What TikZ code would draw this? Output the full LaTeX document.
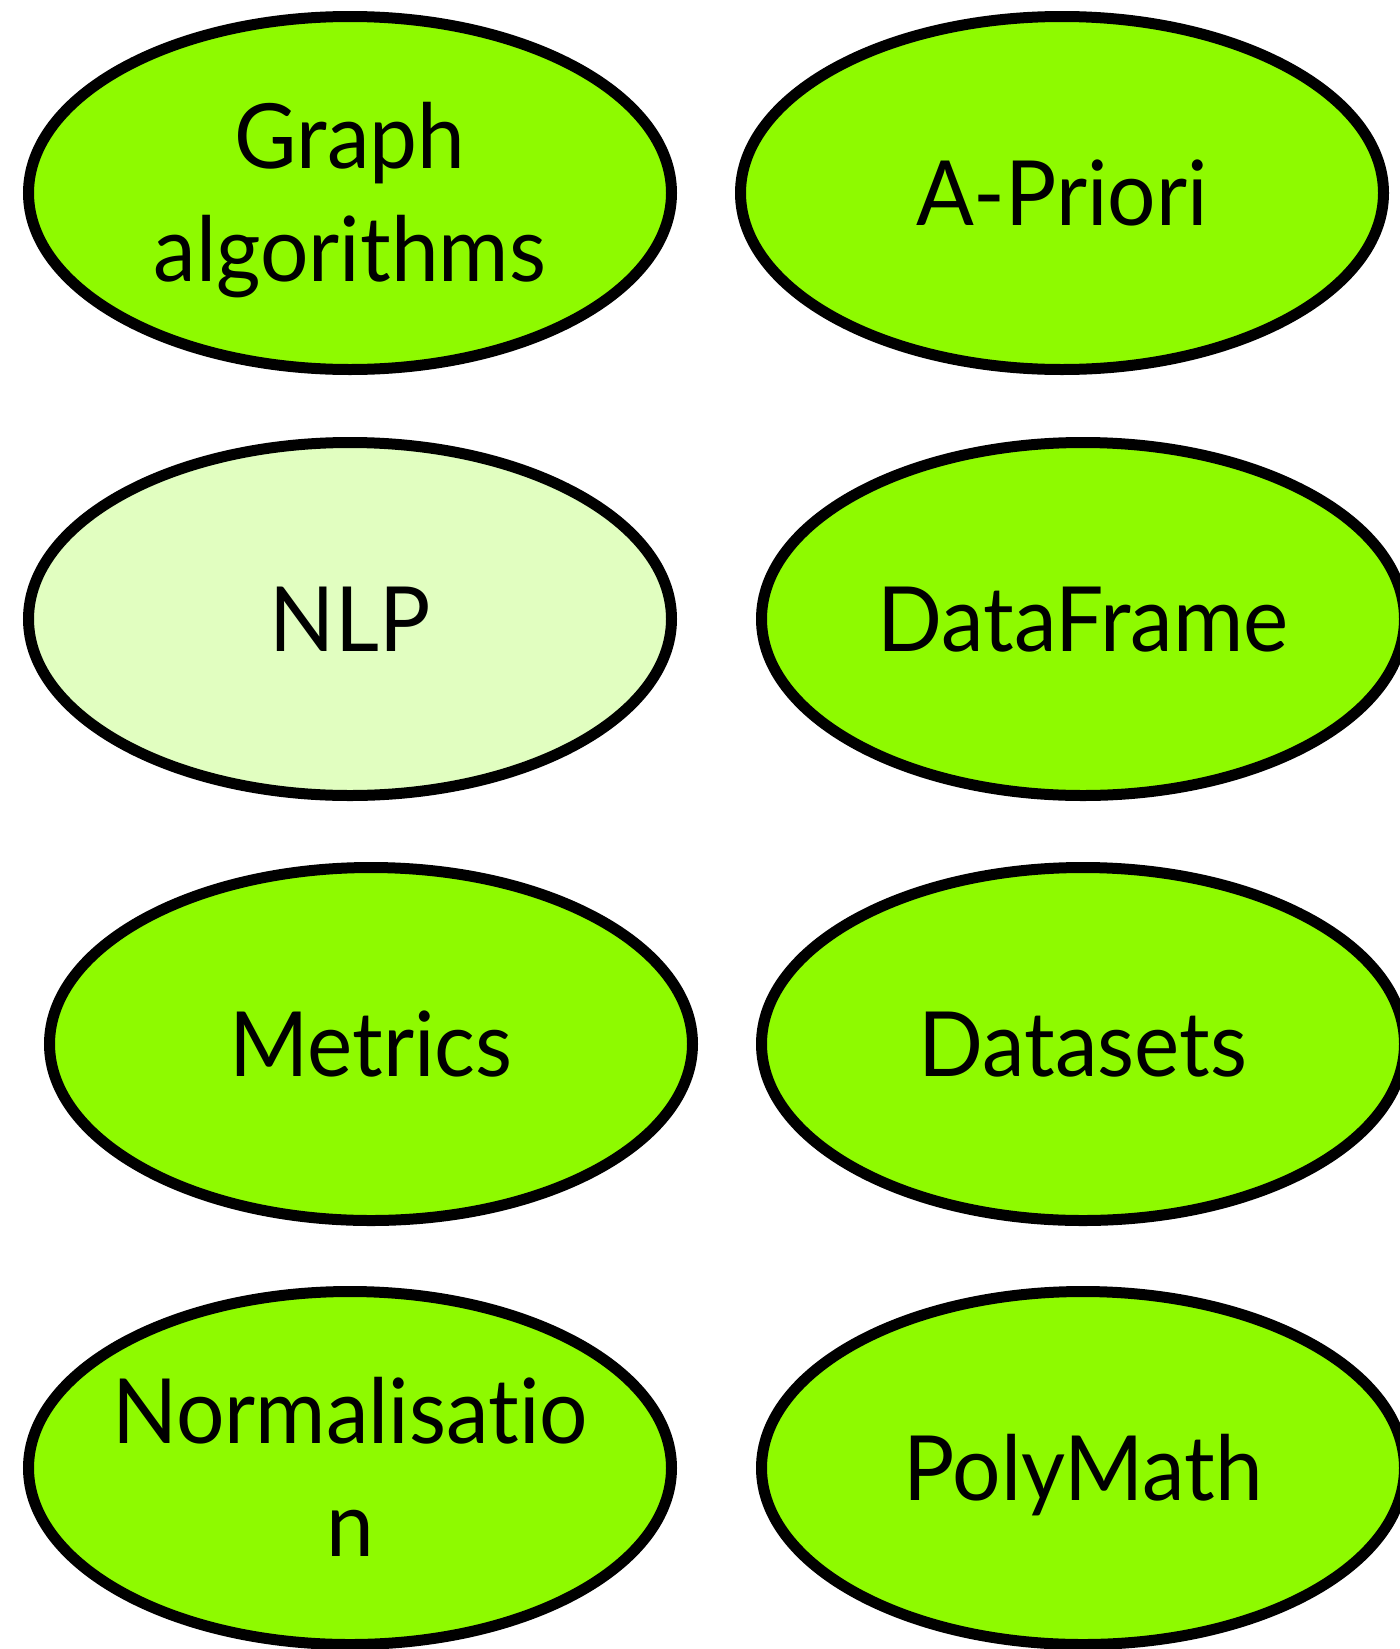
\documentclass[tikz,border=0pt]{standalone}
\usepackage{fontspec}
\setmainfont{Lato}[FakeStretch=0.95, RawFeature={-liga;-dlig}]
\usetikzlibrary{shapes.geometric}
\definecolor{limefill}{HTML}{8EFA00}
\definecolor{palelime}{HTML}{E1FEC0}
\tikzset{
  topic/.style={ellipse, draw=black, line width=11pt, fill=limefill,
    minimum width=643pt, minimum height=353pt, inner sep=0pt},
  caption/.style={inner sep=0pt, align=center,
    font=\fontsize{90}{113}\selectfont,
    text height=64pt, text depth=0pt},
  twoline/.style={text height=177pt},
}
\begin{document}
\begin{tikzpicture}[x=1pt, y=-1pt]
  \useasboundingbox (0,0) rectangle (1400,1649);
  % left column
  \node[topic] (graph) at (350,193) {};
  \node[topic, fill=palelime] (nlp) at (350,619) {};
  \node[topic] (metrics) at (371,1044) {};
  \node[topic] (norm) at (350,1468) {};
  % right column
  \node[topic] (apriori) at (1062,193) {};
  \node[topic] (dataframe) at (1083,619) {};
  \node[topic] (datasets) at (1083,1044) {};
  \node[topic] (polymath) at (1083,1468) {};
  % labels
  \node[caption, twoline] (graph-t) at (graph) {Graph\\algorithms};
  \node[caption] (nlp-t) at (nlp) {NLP};
  \node[caption] (metrics-t) at (metrics) {Metrics};
  \node[caption, twoline] (norm-t) at (norm) {Normalisatio\\n};
  \node[caption] (apriori-t) at (apriori) {A-Priori};
  \node[caption] (dataframe-t) at (dataframe) {DataFrame};
  \node[caption] (datasets-t) at (datasets) {Datasets};
  \node[caption] (polymath-t) at (polymath) {PolyMath};
\end{tikzpicture}
\end{document}
